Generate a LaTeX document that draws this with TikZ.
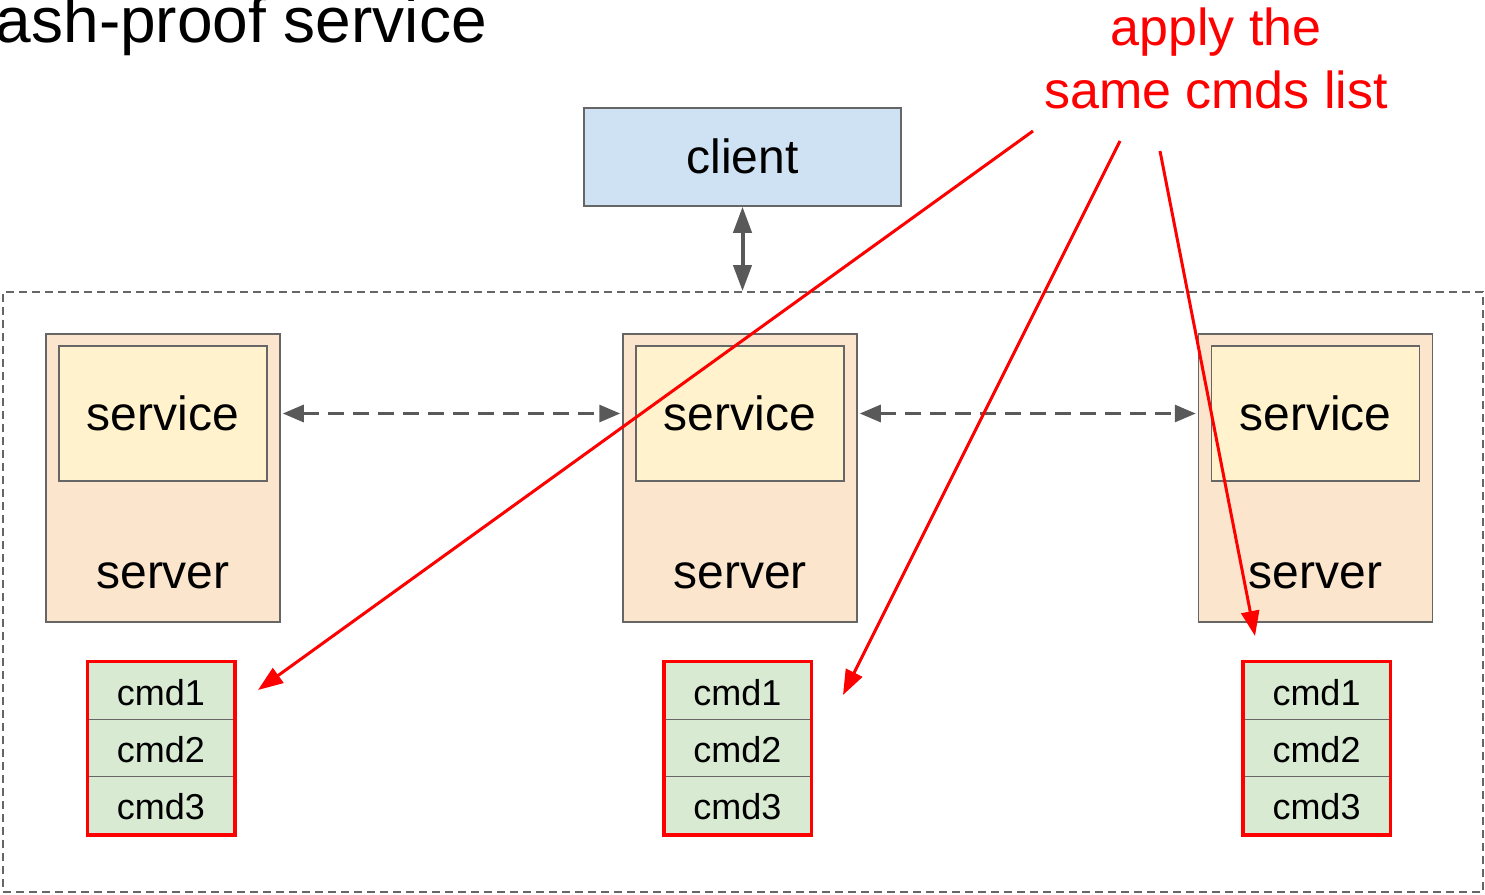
\documentclass[tikz,border=0pt]{standalone}
\usepackage{fontspec}
\setmainfont{Liberation Sans}
\usetikzlibrary{arrows.meta,calc,fit}

\definecolor{clientblue}{HTML}{CFE2F3}
\definecolor{serverpeach}{HTML}{FCE5CD}
\definecolor{serviceyellow}{HTML}{FFF2CC}
\definecolor{cmdgreen}{HTML}{D9EAD3}
\definecolor{edgegray}{HTML}{666666}
\definecolor{arrowgray}{HTML}{595959}
\definecolor{notered}{HTML}{FF0000}

\tikzset{
  box/.style={draw=edgegray, line width=1.5pt, inner sep=0pt},
  clientbox/.style={box, fill=clientblue, minimum width=317pt, minimum height=98pt,
    font=\fontsize{48}{56}\selectfont, text height=32pt, text depth=0pt},
  serverbox/.style={box, fill=serverpeach, minimum width=234pt, minimum height=288pt},
  servicebox/.style={box, fill=serviceyellow, minimum width=208pt, minimum height=135pt,
    font=\fontsize{48}{56}\selectfont, text height=33pt, text depth=0pt},
  serverlabel/.style={anchor=base, inner sep=0pt, font=\fontsize{48}{56}\selectfont},
  cmdcell/.style={box, fill=cmdgreen, minimum width=146pt, minimum height=57.33pt,
    font=\fontsize{36}{42}\selectfont, text height=29pt, text depth=0pt},
  cmdframe/.style={draw=notered, line width=3.5pt, inner sep=0pt},
  group/.style={draw=edgegray, line width=1.8pt, dash pattern=on 8pt off 5pt,
    minimum width=1480pt, minimum height=600pt, inner sep=0pt},
  updown/.style={draw=arrowgray, line width=4pt,
    {Triangle[length=26pt,width=18pt]}-{Triangle[length=26pt,width=18pt]}},
  peerlink/.style={draw=arrowgray, line width=3pt, dash pattern=on 16pt off 9pt,
    shorten <=2pt, shorten >=2pt,
    {Triangle[length=21pt,width=17pt]}-{Triangle[length=21pt,width=17pt]}},
  apply/.style={draw=notered, line width=3pt, -{Triangle[length=25pt,width=18pt]}},
}

\begin{document}
\begin{tikzpicture}[x=1pt, y=-1pt]
\useasboundingbox (0,0) rectangle (1485,894);

% heading, running off the top-left corner
\node[anchor=base east, inner sep=0pt, font=\fontsize{64}{70}\selectfont]
  (title) at (487,42) {ash-proof service};

% client
\node[clientbox] (client) at (742.5,157) {client};

% cluster boundary
\node[group] (cluster) at (743,592) {};

% servers with their services
\foreach \i/\x in {1/163, 2/740, 3/1315.5} {
  \node[serverbox] (srv\i) at (\x,478) {};
  \node[servicebox] (svc\i) at (\x,413.5) {service};
  \node[serverlabel] (lbl\i) at (\x,588) {server};
}

% command lists
\foreach \i/\x in {1/161, 2/737.5, 3/1316.5} {
  \node[cmdcell] (cmd\i a) at (\x,690.67) {cmd1};
  \node[cmdcell] (cmd\i b) at (\x,748) {cmd2};
  \node[cmdcell] (cmd\i c) at (\x,805.33) {cmd3};
  \node[cmdframe, fit=(cmd\i a)(cmd\i c)] (list\i) {};
}

% client <-> cluster
\draw[updown] (client.south) -- (client.south |- cluster.north);

% service <-> service
\draw[peerlink] (srv1.east |- svc1.center) -- (srv2.west |- svc2.center);
\draw[peerlink] (srv2.east |- svc2.center) -- (srv3.west |- svc3.center);

% note (base anchor sits on the last line)
\node[align=center, text=notered, inner sep=0pt,
      font=\fontsize{52}{63}\selectfont, anchor=base] (note) at (1216,108)
  {apply the\\same cmds list};

\coordinate (from1) at (1033,131);
\coordinate (from2) at (1120,141);
\coordinate (from3) at (1160,151);
\coordinate (to1) at (258,690);
\coordinate (to2) at (843,695);
\coordinate (to3) at (1255,636);

\draw[apply] (from1) -- (to1);
\draw[apply] (from2) -- (to2);
\draw[apply] (from3) -- (to3);
\end{tikzpicture}
\end{document}
